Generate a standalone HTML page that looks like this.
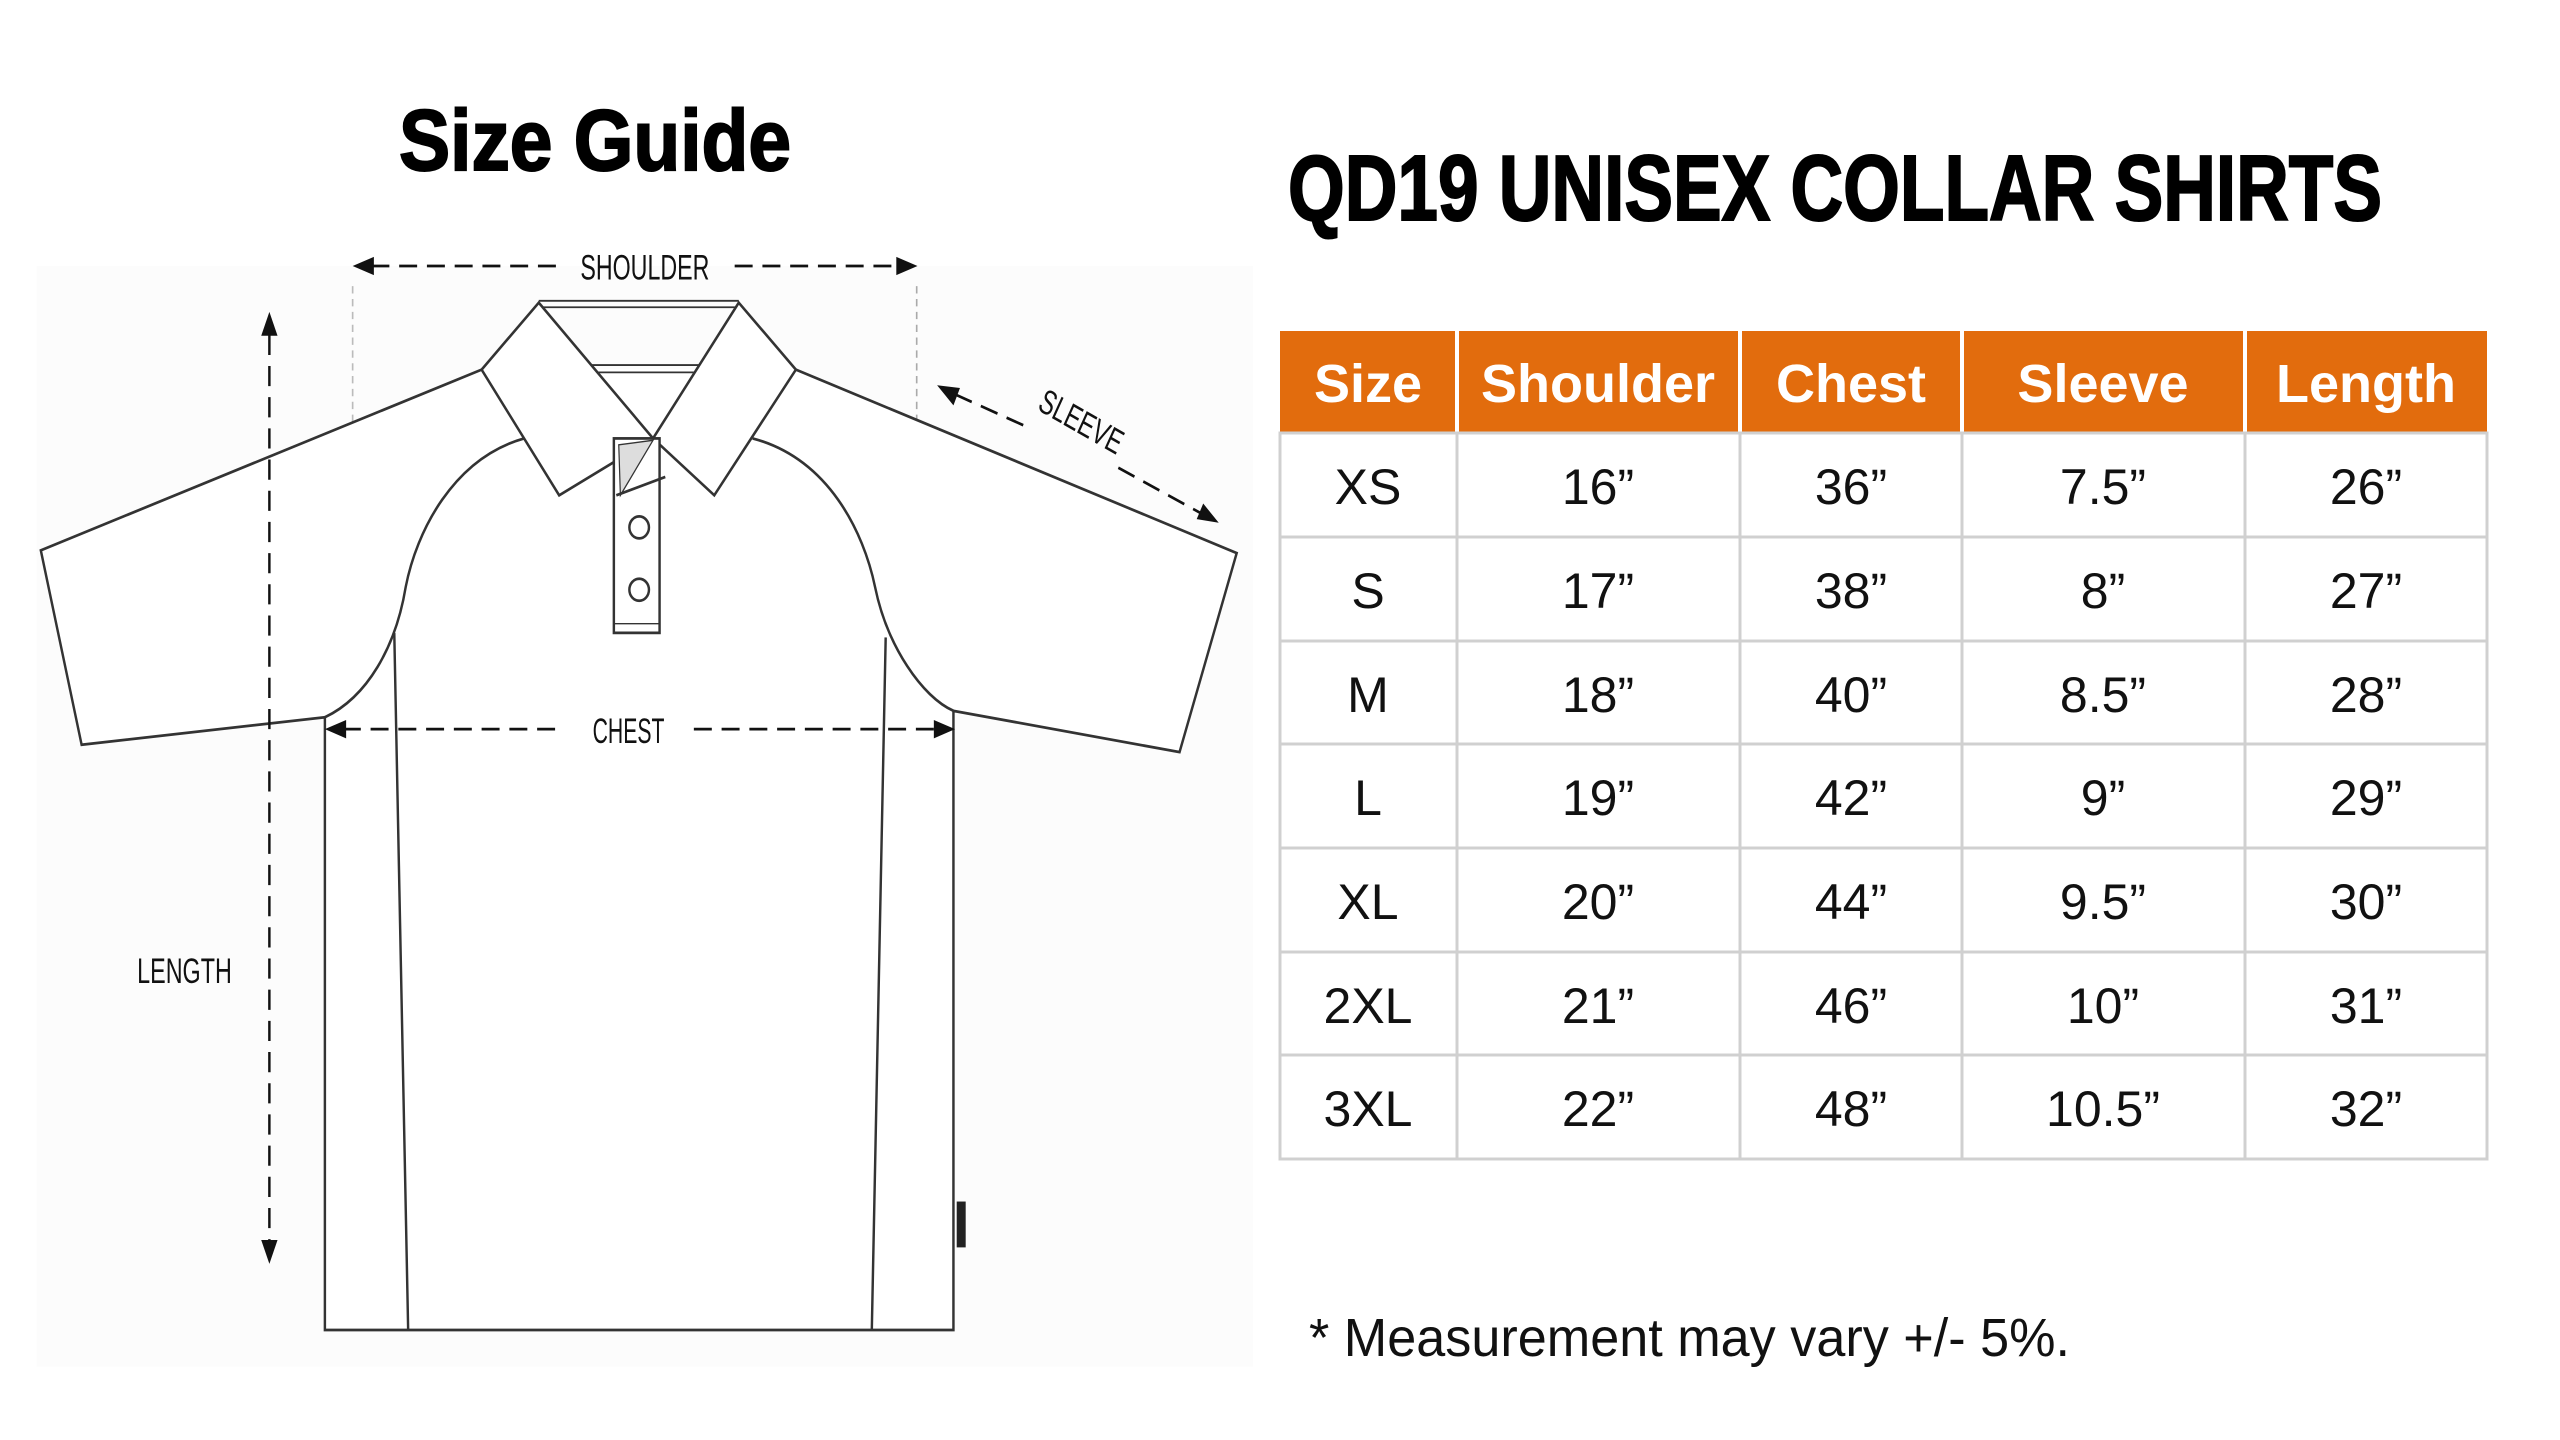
<!DOCTYPE html>
<html><head><meta charset="utf-8"><style>
html,body{margin:0;padding:0;background:#fff;}
svg{display:block}
</style></head><body>
<svg width="2560" height="1440" viewBox="0 0 2560 1440" xmlns="http://www.w3.org/2000/svg">
<rect width="2560" height="1440" fill="#fff"/>
<text x="399" y="170" font-family="'Liberation Sans Narrow','Liberation Sans',sans-serif" font-weight="bold" font-size="86" textLength="392" lengthAdjust="spacingAndGlyphs" fill="#000" stroke="#000" stroke-width="2">Size Guide</text>
<text x="1288" y="220" font-family="'Liberation Sans Narrow','Liberation Sans',sans-serif" font-weight="bold" font-size="93" textLength="1094" lengthAdjust="spacingAndGlyphs" fill="#000" stroke="#000" stroke-width="2">QD19 UNISEX COLLAR SHIRTS</text>

<g transform="scale(0.8163,0.9172)" fill="none" stroke="#333" stroke-width="3">
  <rect x="45" y="290" width="1490" height="1200" fill="#fcfcfc" stroke="none"/>
  <line x1="432" y1="312" x2="432" y2="462" stroke="#bbb" stroke-width="2" stroke-dasharray="8,6"/>
  <line x1="1123" y1="312" x2="1123" y2="465" stroke="#aaa" stroke-width="2" stroke-dasharray="8,6"/>
  <path d="M590,403 L50,600 L100,812 L398,782 L398,1450 L1168,1450 L1168,775 L1445,820 L1515,603 L975,403" fill="#fff"/>
  <path d="M483,690 L500,1450 M1085,695 L1068,1450"/>
  <path d="M642,478 C555,500 510,580 497,640 C485,705 450,760 398,782"/>
  <path d="M922,478 C1015,500 1058,580 1072,640 C1087,705 1130,760 1168,775"/>
  <path d="M660,328 L905,328 M660,335 L905,335" stroke-width="2"/>
  <path d="M710,398 L860,398 M710,406 L860,406" stroke-width="2"/>
  <path d="M660,330 L590,403 L685,540 L800,478 Z" fill="#fff"/>
  <path d="M905,330 L975,403 L875,540 L800,478 Z" fill="#fff"/>
  <rect x="752" y="478" width="56" height="212" fill="#fff"/>
  <path d="M758,485 L800,480 L760,540 Z" fill="#ddd" stroke-width="1.5"/>
  <path d="M755,540 L815,520" />
  <circle cx="783" cy="575" r="12"/>
  <circle cx="783" cy="643" r="12"/>
  <line x1="752" y1="680" x2="808" y2="680" stroke-width="1.5"/>
  <rect x="1172" y="1310" width="11" height="50" fill="#222" stroke="none"/>
  <g stroke="#111" stroke-width="3" stroke-dasharray="22,12">
    <line x1="455" y1="290" x2="690" y2="290"/>
    <line x1="900" y1="290" x2="1100" y2="290"/>
    <line x1="330" y1="365" x2="330" y2="1355"/>
    <line x1="420" y1="795" x2="690" y2="795"/>
    <line x1="850" y1="795" x2="1148" y2="795"/>
    <line x1="1170" y1="430" x2="1262" y2="467"/>
    <line x1="1370" y1="510" x2="1472" y2="560"/>
  </g>
  <g fill="#111" stroke="none">
    <polygon points="432,290 458,280 458,300"/>
    <polygon points="1124,290 1098,280 1098,300"/>
    <polygon points="330,340 320,366 340,366"/>
    <polygon points="330,1378 320,1352 340,1352"/>
    <polygon points="398,795 424,785 424,805"/>
    <polygon points="1170,795 1144,785 1144,805"/>
    <polygon points="1148,420 1176,423 1168,442"/>
    <polygon points="1493,570 1466,566 1474,549"/>
  </g>
  <g fill="#111" stroke="none" font-family="'Liberation Sans Narrow','Liberation Sans',sans-serif" font-size="38">
    <text x="790" y="305" text-anchor="middle" textLength="158" lengthAdjust="spacingAndGlyphs">SHOULDER</text>
    <text x="770" y="810" text-anchor="middle" textLength="88" lengthAdjust="spacingAndGlyphs">CHEST</text>
    <text x="226" y="1072" text-anchor="middle" textLength="116" lengthAdjust="spacingAndGlyphs">LENGTH</text>
    <text x="1322" y="472" text-anchor="middle" transform="rotate(27 1322 465)" textLength="110" lengthAdjust="spacingAndGlyphs">SLEEVE</text>
  </g>
</g>

<rect x="1280" y="331" width="1207" height="102" fill="#E26C0D"/>
<g stroke="#fff" stroke-width="4">
  <line x1="1457" y1="331" x2="1457" y2="433"/>
  <line x1="1740" y1="331" x2="1740" y2="433"/>
  <line x1="1962" y1="331" x2="1962" y2="433"/>
  <line x1="2245" y1="331" x2="2245" y2="433"/>
</g>
<g stroke="#d0d0d0" stroke-width="3" fill="none">
  <rect x="1280" y="433" width="1207" height="726"/>
  <line x1="1280" y1="537" x2="2487" y2="537"/>
  <line x1="1280" y1="641" x2="2487" y2="641"/>
  <line x1="1280" y1="744" x2="2487" y2="744"/>
  <line x1="1280" y1="848" x2="2487" y2="848"/>
  <line x1="1280" y1="952" x2="2487" y2="952"/>
  <line x1="1280" y1="1055" x2="2487" y2="1055"/>
  <line x1="1457" y1="433" x2="1457" y2="1159"/>
  <line x1="1740" y1="433" x2="1740" y2="1159"/>
  <line x1="1962" y1="433" x2="1962" y2="1159"/>
  <line x1="2245" y1="433" x2="2245" y2="1159"/>
</g>
<g font-family="'Liberation Sans Narrow','Liberation Sans',sans-serif" font-weight="bold" font-size="54" fill="#fff" text-anchor="middle">
  <text x="1368" y="402">Size</text>
  <text x="1598" y="402">Shoulder</text>
  <text x="1851" y="402">Chest</text>
  <text x="2103" y="402">Sleeve</text>
  <text x="2366" y="402">Length</text>
</g>
<g font-family="'Liberation Sans Narrow','Liberation Sans',sans-serif" font-size="50" fill="#111" text-anchor="middle">
  <text x="1368" y="504">XS</text><text x="1598" y="504">16”</text><text x="1851" y="504">36”</text><text x="2103" y="504">7.5”</text><text x="2366" y="504">26”</text>
  <text x="1368" y="608">S</text><text x="1598" y="608">17”</text><text x="1851" y="608">38”</text><text x="2103" y="608">8”</text><text x="2366" y="608">27”</text>
  <text x="1368" y="712">M</text><text x="1598" y="712">18”</text><text x="1851" y="712">40”</text><text x="2103" y="712">8.5”</text><text x="2366" y="712">28”</text>
  <text x="1368" y="815">L</text><text x="1598" y="815">19”</text><text x="1851" y="815">42”</text><text x="2103" y="815">9”</text><text x="2366" y="815">29”</text>
  <text x="1368" y="919">XL</text><text x="1598" y="919">20”</text><text x="1851" y="919">44”</text><text x="2103" y="919">9.5”</text><text x="2366" y="919">30”</text>
  <text x="1368" y="1023">2XL</text><text x="1598" y="1023">21”</text><text x="1851" y="1023">46”</text><text x="2103" y="1023">10”</text><text x="2366" y="1023">31”</text>
  <text x="1368" y="1126">3XL</text><text x="1598" y="1126">22”</text><text x="1851" y="1126">48”</text><text x="2103" y="1126">10.5”</text><text x="2366" y="1126">32”</text>
</g>
<text x="1309" y="1356" font-family="'Liberation Sans Narrow','Liberation Sans',sans-serif" font-size="54" fill="#111" textLength="761" lengthAdjust="spacingAndGlyphs">* Measurement may vary +/- 5%.</text>
</svg>
</body></html>
